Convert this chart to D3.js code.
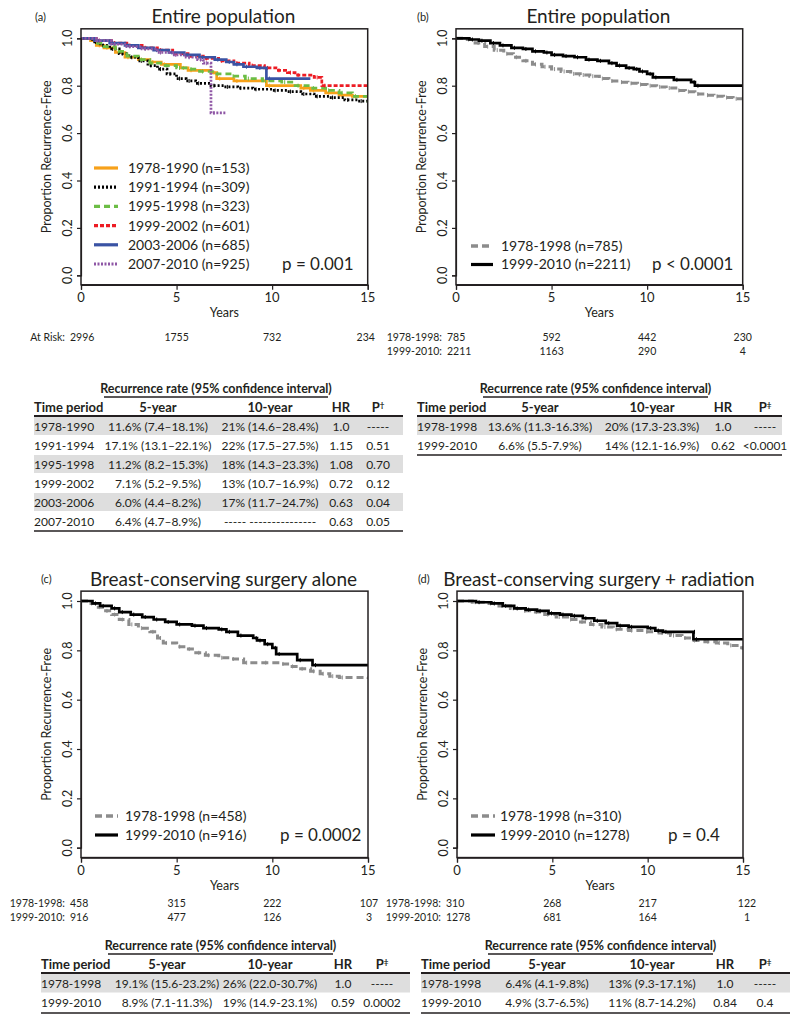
<!DOCTYPE html>
<html><head><meta charset="utf-8">
<script src="https://cdn.jsdelivr.net/npm/d3@7"></script>
<style>
body{margin:0;background:#fff}
svg{display:block}
text{font-family:Lato, "Open Sans", sans-serif; fill:#231f20}
</style>
</head><body>
<svg id="c" width="800" height="1023"></svg>
<script>
// ---------- data ----------
const xTicks = [0, 5, 10, 15];
const yTicks = [0, 0.2, 0.4, 0.6, 0.8, 1.0];

// Panel (a): Kaplan-Meier steps [year, proportion recurrence-free]
const a_1978_1990 = [[0,1],[0.5,0.99],[0.8,0.97],[1.2,0.96],[1.8,0.94],[2.3,0.92],[3,0.91],[3.6,0.90],[4.2,0.89],[5.2,0.875],[5.6,0.865],[6.8,0.855],[7.1,0.83],[8,0.82],[9.7,0.80],[11.5,0.79],[12,0.78],[12.8,0.77],[13.5,0.76],[14.2,0.755],[15,0.755]];
const a_1991_1994 = [[0,1],[0.6,0.985],[1,0.97],[1.5,0.955],[2,0.935],[2.5,0.92],[3,0.905],[3.5,0.885],[4,0.87],[4.5,0.85],[5,0.83],[5.5,0.82],[6,0.81],[6.8,0.80],[7.5,0.795],[8.2,0.79],[9,0.785],[10,0.78],[10.8,0.775],[11.5,0.765],[12.2,0.755],[13,0.75],[13.8,0.74],[14.5,0.735],[15,0.73]];
const a_1995_1998 = [[0,1],[0.7,0.98],[1.2,0.965],[1.8,0.945],[2.4,0.925],[3,0.91],[3.6,0.895],[4.3,0.885],[5,0.875],[5.6,0.87],[6.2,0.86],[7,0.85],[7.8,0.84],[8.6,0.83],[9.5,0.82],[10.5,0.815],[11.2,0.80],[12,0.79],[12.8,0.78],[13.5,0.77],[14.2,0.755],[15,0.73]];
const a_1999_2002 = [[0,1],[0.8,0.99],[1.6,0.98],[2.4,0.97],[3.2,0.96],[4,0.95],[4.8,0.935],[5.6,0.925],[6.4,0.915],[7.2,0.905],[8,0.895],[8.8,0.885],[9.6,0.875],[10.2,0.865],[10.8,0.855],[11.2,0.845],[12.2,0.835],[12.6,0.80],[15,0.80]];
const a_2003_2006 = [[0,1],[0.7,0.99],[1.5,0.98],[2.3,0.97],[3,0.96],[3.8,0.95],[4.6,0.94],[5.4,0.93],[6.2,0.92],[7,0.91],[7.6,0.90],[8,0.89],[8.5,0.88],[9.2,0.875],[9.7,0.83],[12,0.83]];
const a_2007_2010 = [[0,1],[0.8,0.99],[1.6,0.975],[2.4,0.965],[3.2,0.955],[4,0.94],[4.8,0.93],[5.5,0.92],[6.1,0.91],[6.4,0.895],[6.8,0.685],[7.6,0.685]];

// Panel (b)
const b_1978_1998 = [[0,1],[0.5,0.995],[1,0.98],[1.5,0.965],[2,0.95],[2.5,0.935],[3,0.92],[3.5,0.905],[4,0.89],[4.5,0.88],[5,0.87],[5.5,0.86],[6,0.85],[6.5,0.845],[7,0.84],[7.5,0.83],[8,0.82],[8.5,0.815],[9,0.81],[9.5,0.805],[10,0.80],[10.5,0.795],[11,0.79],[11.5,0.78],[12,0.775],[12.5,0.765],[13,0.76],[13.5,0.755],[14,0.75],[14.5,0.745],[15,0.74]];
const b_1999_2010 = [[0,1],[0.7,0.995],[1.2,0.99],[1.8,0.98],[2.3,0.97],[2.9,0.96],[3.5,0.955],[4,0.945],[4.6,0.94],[5,0.93],[5.6,0.925],[6.2,0.92],[6.8,0.91],[7.4,0.905],[8,0.895],[8.4,0.885],[8.9,0.875],[9.3,0.87],[9.6,0.86],[10,0.85],[10.3,0.835],[11.4,0.825],[12.3,0.815],[12.5,0.80],[15,0.80]];

// Panel (c)
const c_1978_1998 = [[0,1],[0.4,0.99],[0.8,0.975],[1.2,0.96],[1.6,0.945],[2,0.925],[2.5,0.905],[3,0.89],[3.6,0.875],[4,0.85],[4.3,0.83],[5,0.815],[5.5,0.805],[6,0.79],[6.5,0.78],[7.2,0.77],[7.8,0.765],[8.5,0.75],[9.5,0.75],[10.4,0.745],[10.9,0.735],[11.4,0.725],[12,0.715],[12.5,0.705],[13,0.695],[13.5,0.69],[15,0.685]];
const c_1999_2010 = [[0,1],[0.6,0.99],[1,0.98],[1.6,0.97],[2,0.955],[2.6,0.945],[3.2,0.935],[3.8,0.925],[4.4,0.915],[5,0.905],[5.8,0.90],[6.4,0.89],[7.2,0.885],[7.6,0.875],[8.2,0.86],[9,0.85],[9.2,0.84],[9.6,0.825],[10,0.81],[10.2,0.785],[11.3,0.76],[12.1,0.74],[15,0.74]];

// Panel (d)
const d_1978_1998 = [[0,1],[0.8,0.995],[1.6,0.99],[2.2,0.98],[2.8,0.97],[3.4,0.96],[4,0.955],[4.6,0.945],[5.2,0.935],[5.8,0.925],[6.4,0.915],[7,0.905],[7.6,0.895],[8.2,0.885],[9,0.88],[9.8,0.875],[10.6,0.87],[11.2,0.86],[11.8,0.85],[12.3,0.84],[13,0.835],[13.6,0.83],[14.2,0.82],[14.8,0.81],[15,0.805]];
const d_1999_2010 = [[0,1],[1,0.995],[1.8,0.99],[2.4,0.98],[3,0.97],[3.6,0.965],[4.2,0.96],[4.8,0.95],[5.4,0.945],[6,0.94],[6.6,0.93],[7.2,0.92],[7.8,0.91],[8.4,0.90],[9,0.895],[10,0.89],[10.4,0.88],[10.8,0.875],[12.3,0.875],[12.4,0.845],[15,0.845]];

// Legends / labels
const aLabels = ["1978-1990 (n=153)","1991-1994 (n=309)","1995-1998 (n=323)","1999-2002 (n=601)","2003-2006 (n=685)","2007-2010 (n=925)"];
const bLabels = ["1978-1998 (n=785)","1999-2010 (n=2211)"];
const cLabels = ["1978-1998 (n=458)","1999-2010 (n=916)"];
const dLabels = ["1978-1998 (n=310)","1999-2010 (n=1278)"];

// Numbers at risk
const aRisk = [["At Risk:", [2996,1755,732,234]]];
const bRisk = [["1978-1998:", [785,592,442,230]],["1999-2010:", [2211,1163,290,4]]];
const cRisk = [["1978-1998:", [458,315,222,107]],["1999-2010:", [916,477,126,3]]];
const dRisk = [["1978-1998:", [310,268,217,122]],["1999-2010:", [1278,681,164,1]]];

// Tables
const tableHeader = ["Time period","5-year","10-year","HR","P"];
const aTable = [
 ["1978-1990","11.6% (7.4–18.1%)","21% (14.6–28.4%)","1.0","-----"],
 ["1991-1994","17.1% (13.1–22.1%)","22% (17.5–27.5%)","1.15","0.51"],
 ["1995-1998","11.2% (8.2–15.3%)","18% (14.3–23.3%)","1.08","0.70"],
 ["1999-2002","7.1% (5.2–9.5%)","13% (10.7–16.9%)","0.72","0.12"],
 ["2003-2006","6.0% (4.4–8.2%)","17% (11.7–24.7%)","0.63","0.04"],
 ["2007-2010","6.4% (4.7–8.9%)","-----  ---------------","0.63","0.05"]];
const bTable = [
 ["1978-1998","13.6% (11.3-16.3%)","20% (17.3-23.3%)","1.0","-----"],
 ["1999-2010","6.6% (5.5-7.9%)","14% (12.1-16.9%)","0.62","<0.0001"]];
const cTable = [
 ["1978-1998","19.1% (15.6-23.2%)","26% (22.0-30.7%)","1.0","-----"],
 ["1999-2010","8.9% (7.1-11.3%)","19% (14.9-23.1%)","0.59","0.0002"]];
const dTable = [
 ["1978-1998","6.4% (4.1-9.8%)","13% (9.3-17.1%)","1.0","-----"],
 ["1999-2010","4.9% (3.7-6.5%)","11% (8.7-14.2%)","0.84","0.4"]];

// ---------- drawing ----------
const svg = d3.select("#c");
const INK = "#231f20";

function panel(p){
  const g = svg.append("g");
  const x = d3.scaleLinear().domain([0,15]).range([p.x0,p.x1]);
  const y = d3.scaleLinear().domain([0,1]).range([p.yb,p.yt]);
  const pad = (p.yb-p.yt)*0.04;
  const top = p.yt-pad, bot = p.yb+pad;
  const id = "clip"+p.key;
  g.append("clipPath").attr("id",id).append("rect")
    .attr("x",p.x0).attr("y",top).attr("width",p.x1-p.x0).attr("height",bot-top);
  // curves
  const line = d3.line().x(d=>x(d[0])).y(d=>y(d[1])).curve(d3.curveStepAfter);
  const cg = g.append("g").attr("clip-path","url(#"+id+")");
  p.series.forEach(s=>{
    cg.append("path").attr("d",line(s.data)).attr("fill","none")
      .attr("stroke",s.color).attr("stroke-width",s.w)
      .attr("stroke-dasharray",s.dash||null);
    // censoring marks
    cg.append("g").selectAll("line").data(s.data.slice(1,-1)).join("line")
      .attr("x1",d=>x(d[0])+3).attr("x2",d=>x(d[0])+3)
      .attr("y1",d=>y(d[1])-2).attr("y2",d=>y(d[1])+2)
      .attr("stroke",s.color).attr("stroke-width",1);
  });
  // box
  g.append("rect").attr("x",p.x0).attr("y",top).attr("width",p.x1-p.x0).attr("height",bot-top)
    .attr("fill","none").attr("stroke",INK).attr("stroke-width",1.5);
  // y axis
  const ya = g.append("g").attr("transform",`translate(${p.x0},0)`)
    .call(d3.axisLeft(y).tickValues(yTicks).tickSize(4).tickFormat(""));
  ya.select(".domain").attr("stroke",INK).attr("stroke-width",1.2);
  ya.selectAll(".tick line").attr("stroke",INK).attr("stroke-width",1.2);
  g.selectAll(".ylab"+p.key).data(yTicks).join("text")
    .attr("transform",d=>`translate(${p.x0-13},${y(d)}) rotate(-90)`)
    .attr("text-anchor","middle").attr("dy","0.35em").attr("font-size",12.5)
    .text(d3.format(".1f"));
  g.append("text").attr("transform",`translate(${p.x0-34},${(p.yt+p.yb)/2}) rotate(-90)`)
    .attr("text-anchor","middle").attr("dy","0.35em").attr("font-size",12.5)
    .text("Proportion Recurrence-Free");
  // x axis
  const xa = g.append("g").attr("transform",`translate(0,${bot})`)
    .call(d3.axisBottom(x).tickValues(xTicks).tickSize(5).tickFormat(""));
  xa.select(".domain").attr("stroke",INK).attr("stroke-width",1.2);
  xa.selectAll(".tick line").attr("stroke",INK).attr("stroke-width",1.2);
  g.selectAll(".xlab"+p.key).data(xTicks).join("text")
    .attr("x",d=>x(d)).attr("y",bot+13).attr("dy","0.35em")
    .attr("text-anchor","middle").attr("font-size",13).text(d=>d);
  g.append("text").attr("x",(p.x0+p.x1)/2).attr("y",bot+28).attr("dy","0.35em")
    .attr("text-anchor","middle").attr("font-size",12.5).text("Years");
  // title
  g.append("text").attr("x",(p.x0+p.x1)/2-1).attr("y",top-12).attr("dy","0.35em")
    .attr("text-anchor","middle").attr("font-size",19).text(p.title);
  g.append("text").attr("x",p.letterX).attr("y",top-12).attr("dy","0.35em")
    .attr("font-size",11).text(p.letter);
  // legend
  p.series.forEach((s,i)=>{
    const ly = p.legY + i*p.legStep;
    g.append("line").attr("x1",p.legX).attr("x2",p.legX+p.legLen).attr("y1",ly).attr("y2",ly)
      .attr("stroke",s.color).attr("stroke-width",s.w+0.5).attr("stroke-dasharray",s.dash||null);
    g.append("text").attr("x",p.legX+p.legLen+p.legGap).attr("y",ly).attr("dy","0.35em")
      .attr("font-size",14).text(s.label);
  });
  g.append("text").attr("x",p.pX).attr("y",p.pY).attr("dy","0.35em")
    .attr("font-size",17).text(p.pText);
  // at risk
  p.risk.forEach((r,i)=>{
    const ry = bot + p.riskDy + i*14;
    g.append("text").attr("x",p.riskFirstX-5).attr("y",ry).attr("dy","0.35em")
      .attr("text-anchor","end").attr("font-size",10.5).text(r[0]);
    g.selectAll(null).data(r[1]).join("text")
      .attr("x",(d,j)=> j===0 ? p.riskFirstX : x(xTicks[j]) + (j===3?p.riskLastDx:0))
      .attr("y",ry).attr("dy","0.35em")
      .attr("text-anchor",(d,j)=> j===0 ? "start" : "middle")
      .attr("font-size",10.5).text(d=>d);
  });
}

function table(t){
  const g = svg.append("g");
  const fs = 12;
  // spanning header
  g.append("text").attr("x",(t.spanX0+t.spanX1)/2).attr("y",t.y).attr("dy","0.35em")
    .attr("text-anchor","middle").attr("font-weight","bold").attr("font-size",12.5)
    .text("Recurrence rate (95% confidence  interval)");
  g.append("line").attr("x1",t.spanX0).attr("x2",t.spanX1).attr("y1",t.y+8).attr("y2",t.y+8)
    .attr("stroke",INK).attr("stroke-width",1.5);
  const hy = t.y+18;
  const cols = t.cols;
  tableHeader.forEach((h,j)=>{
    const tx = g.append("text").attr("x",j===0?t.x0:cols[j]).attr("y",hy).attr("dy","0.35em")
      .attr("text-anchor",j===0?"start":"middle").attr("font-weight","bold").attr("font-size",13)
      .text(h);
    if(j===4) tx.append("tspan").attr("font-size",8).attr("dy","-0.5em").text(t.sup);
  });
  const lineY = hy+9;
  const rowH = t.rowH;
  t.rows.forEach((r,i)=>{
    const ry = lineY + 1 + i*rowH;
    if(i%2===0) g.append("rect").attr("x",t.x0).attr("y",ry).attr("width",t.x1-t.x0).attr("height",rowH-1)
      .attr("fill","#dedede");
    r.forEach((c,j)=>{
      g.append("text").attr("x",j===0?t.x0:cols[j]).attr("y",ry+rowH/2).attr("dy","0.35em")
        .attr("text-anchor",j===0?"start":"middle").attr("font-size",fs).text(c);
    });
  });
  g.append("line").attr("x1",t.x0).attr("x2",t.x1).attr("y1",lineY).attr("y2",lineY)
    .attr("stroke",INK).attr("stroke-width",2);
  const by = lineY + 1 + t.rows.length*rowH;
  g.append("line").attr("x1",t.x0).attr("x2",t.x1).attr("y1",by).attr("y2",by)
    .attr("stroke",INK).attr("stroke-width",1.5);
}

const GRAY = "#8c8c8c";

panel({key:"a", x0:81, x1:367.7, yt:38.3, yb:275.3, title:"Entire population", letter:"(a)", letterX:35,
  series:[
    {data:a_1978_1990,color:"#f7a11a",w:2.7,label:aLabels[0]},
    {data:a_1991_1994,color:"#000000",w:2.7,dash:"2,2",label:aLabels[1]},
    {data:a_1995_1998,color:"#6cbd45",w:2.7,dash:"6,4",label:aLabels[2]},
    {data:a_1999_2002,color:"#ed1c24",w:2.7,dash:"4,2",label:aLabels[3]},
    {data:a_2003_2006,color:"#3a53a4",w:2.7,label:aLabels[4]},
    {data:a_2007_2010,color:"#8e56a5",w:2.7,dash:"2,1.5",label:aLabels[5]}],
  legX:94, legLen:24, legGap:10, legY:168, legStep:19.2,
  pX:282, pY:264, pText:"p = 0.001",
  risk:aRisk, riskFirstX:70, riskLastDx:-2, riskDy:53});

panel({key:"b", x0:456, x1:742.7, yt:38.3, yb:275.3, title:"Entire population", letter:"(b)", letterX:417,
  series:[
    {data:b_1978_1998,color:GRAY,w:3,dash:"7,4",label:bLabels[0]},
    {data:b_1999_2010,color:"#000000",w:2.7,label:bLabels[1]}],
  legX:471, legLen:22, legGap:8, legY:246, legStep:18.5,
  pX:652, pY:264, pText:"p < 0.0001",
  risk:bRisk, riskFirstX:447, riskLastDx:0, riskDy:53});

panel({key:"c", x0:81, x1:368, yt:601, yb:847.7, title:"Breast-conserving surgery alone", letter:"(c)", letterX:41,
  series:[
    {data:c_1978_1998,color:GRAY,w:3,dash:"7,4",label:cLabels[0]},
    {data:c_1999_2010,color:"#000000",w:2.7,label:cLabels[1]}],
  legX:95, legLen:23, legGap:7, legY:816, legStep:19,
  pX:280, pY:835, pText:"p = 0.0002",
  risk:cRisk, riskFirstX:70, riskLastDx:1, riskDy:46});

panel({key:"d", x0:457, x1:743, yt:601, yb:847.7, title:"Breast-conserving surgery + radiation", letter:"(d)", letterX:418,
  series:[
    {data:d_1978_1998,color:GRAY,w:3,dash:"7,4",label:dLabels[0]},
    {data:d_1999_2010,color:"#000000",w:2.7,label:dLabels[1]}],
  legX:471, legLen:24, legGap:5, legY:816, legStep:19,
  pX:668, pY:835, pText:"p = 0.4",
  risk:dRisk, riskFirstX:446, riskLastDx:4, riskDy:46});

table({x0:34, x1:403, y:389, spanX0:104, spanX1:328, cols:[0,158,270,341,378], rowH:19, sup:"†", rows:aTable});
table({x0:417, x1:782, y:389, spanX0:483, spanX1:708, cols:[0,540,652,723,765], rowH:19, sup:"‡", rows:bTable});
table({x0:41, x1:410, y:946, spanX0:108, spanX1:333, cols:[0,167,270,343,382], rowH:19.5, sup:"‡", rows:cTable});
table({x0:421, x1:790, y:946, spanX0:488, spanX1:713, cols:[0,547,652,725,765], rowH:19.5, sup:"‡", rows:dTable});
</script>
</body></html>
